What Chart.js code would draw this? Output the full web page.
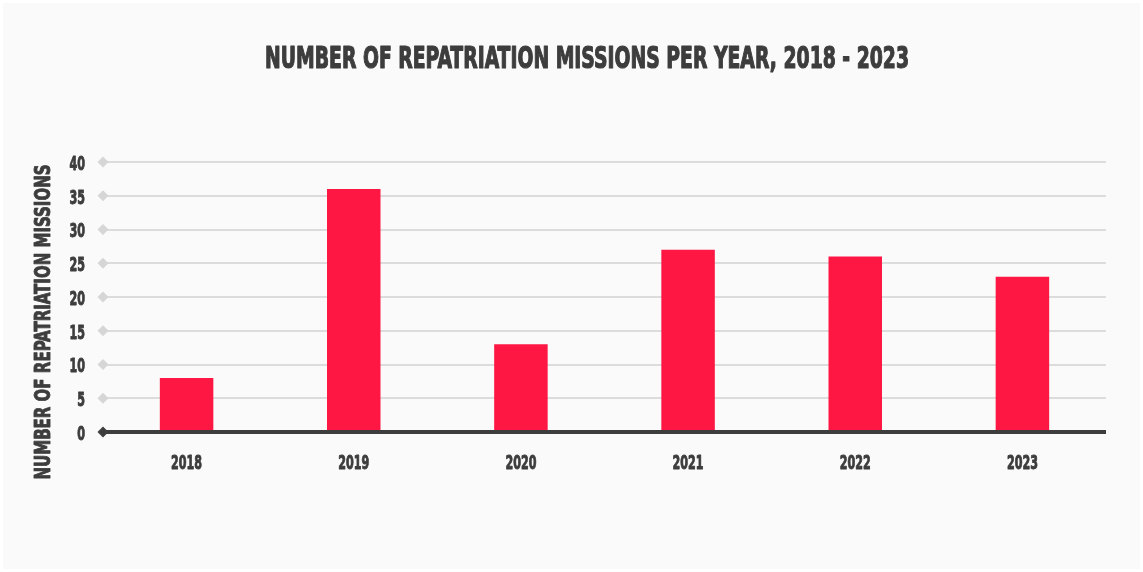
<!DOCTYPE html>
<html>
<head>
<meta charset="utf-8">
<script src="https://cdn.jsdelivr.net/npm/chart.js@4.4.1/dist/chart.umd.min.js"></script>
<style>
  html, body { margin: 0; padding: 0; background: #ffffff; }
  #wrap { width: 1143px; height: 572px; }
</style>
</head>
<body>
<div id="wrap"><canvas id="c" width="1143" height="572"></canvas></div>
<script>
const chartTitle = 'NUMBER OF REPATRIATION MISSIONS PER YEAR, 2018 - 2023';
const yAxisTitle = 'NUMBER OF REPATRIATION MISSIONS';
const categories = ['2018', '2019', '2020', '2021', '2022', '2023'];
const missions = [8, 36, 13, 27, 26, 23];
const yTicks = [0, 5, 10, 15, 20, 25, 30, 35, 40];

const FONT = "'DejaVu Sans Condensed', 'DejaVu Sans', sans-serif";
const TEXT = '#3d3d3d';
const CAP = 0.729;

function fitText(ctx, text, x, y, targetW, size, rotate, stroke) {
  ctx.save();
  ctx.font = 'bold ' + size + 'px ' + FONT;
  const w = ctx.measureText(text).width;
  ctx.translate(x, y);
  if (rotate) ctx.rotate(-Math.PI / 2);
  ctx.scale(targetW / w, 1);
  ctx.fillStyle = TEXT;
  ctx.strokeStyle = TEXT;
  ctx.lineWidth = stroke;
  ctx.lineJoin = 'round';
  ctx.textAlign = 'center';
  ctx.textBaseline = 'alphabetic';
  ctx.fillText(text, 0, CAP * size / 2);
  ctx.strokeText(text, 0, CAP * size / 2);
  ctx.restore();
}

function tickText(ctx, text, x, y, size, sx, align) {
  ctx.save();
  ctx.font = 'bold ' + size + 'px ' + FONT;
  ctx.translate(x, y);
  ctx.scale(sx, 1);
  ctx.fillStyle = TEXT;
  ctx.strokeStyle = TEXT;
  ctx.lineWidth = 0.9;
  ctx.lineJoin = 'round';
  ctx.textAlign = align;
  ctx.textBaseline = 'alphabetic';
  ctx.fillText(text, 0, CAP * size / 2);
  ctx.strokeText(text, 0, CAP * size / 2);
  ctx.restore();
}

const decor = {
  id: 'decor',
  beforeDraw(chart) {
    const ctx = chart.ctx;
    ctx.save();
    ctx.fillStyle = '#fafafa';
    ctx.fillRect(3, 3, chart.width - 6, chart.height - 6);
    ctx.restore();
  },
  afterDatasetsDraw(chart) {
    const ctx = chart.ctx;
    const ys = chart.scales.y;
    const area = chart.chartArea;
    ctx.save();
    const y0 = ys.getPixelForValue(0);
    ctx.strokeStyle = '#3d3d3d';
    ctx.lineWidth = 4;
    ctx.beginPath();
    ctx.moveTo(area.left, y0);
    ctx.lineTo(area.right, y0);
    ctx.stroke();
    yTicks.forEach(v => {
      const y = ys.getPixelForValue(v);
      const x = area.left;
      const r = 5.5;
      ctx.fillStyle = v === 0 ? '#3d3d3d' : '#d6d6d6';
      ctx.beginPath();
      ctx.moveTo(x, y - r);
      ctx.lineTo(x + r, y);
      ctx.lineTo(x, y + r);
      ctx.lineTo(x - r, y);
      ctx.closePath();
      ctx.fill();
    });
    ctx.restore();
  },
  afterDraw(chart) {
    const ctx = chart.ctx;
    const xs = chart.scales.x;
    const ys = chart.scales.y;
    const size = 19;
    ctx.save();
    ctx.font = 'bold ' + size + 'px ' + FONT;
    const sx = 31 / ctx.measureText('2018').width;
    ctx.restore();
    categories.forEach((c, i) => {
      tickText(ctx, c, xs.getPixelForTick(i), chart.chartArea.bottom + 30, size, sx, 'center');
    });
    yTicks.forEach(v => {
      tickText(ctx, String(v), 85, ys.getPixelForValue(v) + 1, size, sx, 'right');
    });
    fitText(ctx, chartTitle, 587, 57, 644, 30, false, 1.2);
    fitText(ctx, yAxisTitle, 42, 322, 315, 21, true, 0.9);
  }
};

new Chart(document.getElementById('c'), {
  type: 'bar',
  data: {
    labels: categories,
    datasets: [{
      data: missions,
      backgroundColor: '#ff1744',
      borderWidth: 0,
      categoryPercentage: 1.0,
      barPercentage: 0.32
    }]
  },
  options: {
    responsive: false,
    animation: false,
    devicePixelRatio: 1,
    layout: { padding: { left: 0, right: 37, top: 162, bottom: 0 } },
    plugins: { legend: { display: false }, tooltip: { enabled: false }, title: { display: false } },
    scales: {
      x: {
        grid: { display: false },
        border: { display: false },
        ticks: { display: false },
        afterFit(scale) { scale.height = 140; }
      },
      y: {
        min: 0,
        max: 40,
        afterBuildTicks(scale) { scale.ticks = yTicks.map(v => ({ value: v })); },
        grid: {
          color: ctx => ctx.tick && ctx.tick.value === 0 ? 'rgba(0,0,0,0)' : '#dcdcdc',
          lineWidth: 2,
          drawTicks: false
        },
        border: { display: false },
        ticks: { display: false },
        afterFit(scale) { scale.width = 103; }
      }
    }
  },
  plugins: [decor]
});
</script>
</body>
</html>
